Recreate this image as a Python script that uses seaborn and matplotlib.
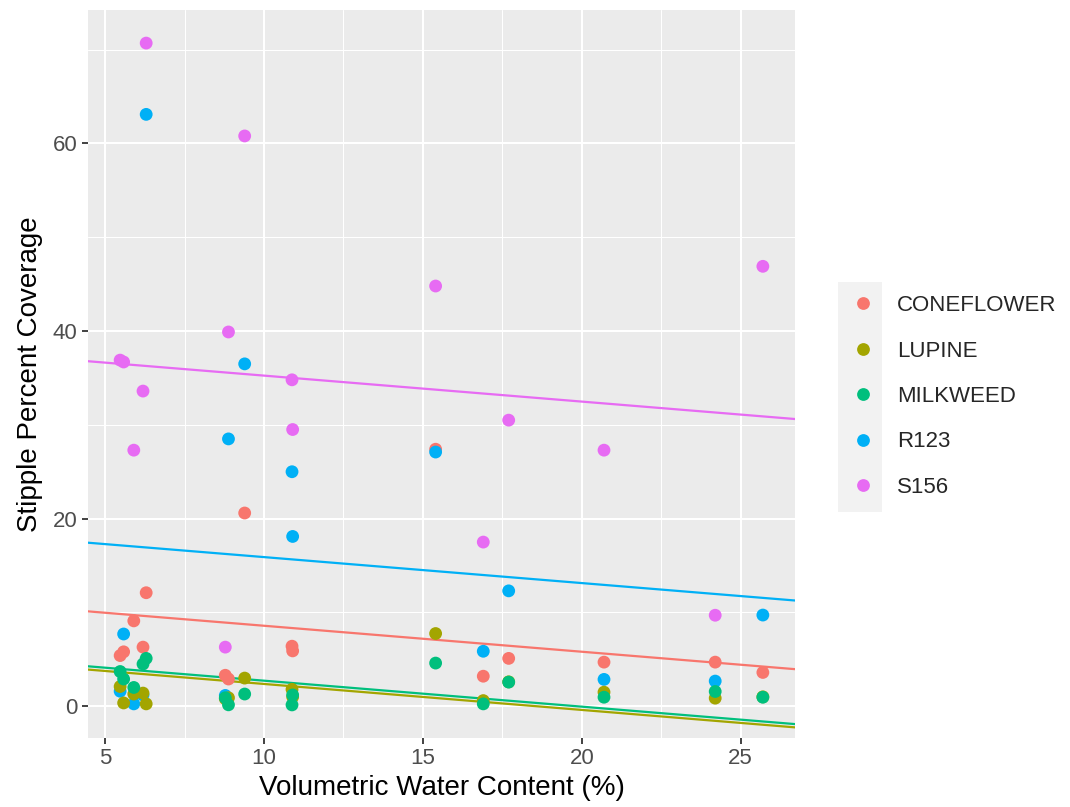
import numpy as np
import pandas as pd
import matplotlib
matplotlib.use("Agg")
import matplotlib.pyplot as plt
import seaborn as sns
from matplotlib.lines import Line2D
from matplotlib.patches import Rectangle

# Species / plot series and their colours
species = ["CONEFLOWER", "LUPINE", "MILKWEED", "R123", "S156"]
palette = ["#F8766D", "#A3A500", "#00BF7D", "#00B0F6", "#E76BF3"]

# Volumetric water content (%) of each sampling site
site_vwc = [5.47, 5.58, 5.90, 6.19, 6.29, 8.78, 8.88, 9.39, 10.88, 10.90,
            15.40, 16.90, 17.70, 20.70, 24.20, 25.70]

# Stipple percent coverage per species at each site
coneflower = [5.4, 5.8, 9.1, 6.3, 12.1, 3.3, 2.9, 20.6, 6.4, 5.9,
              27.4, 3.2, 5.1, 4.7, 4.7, 3.6]
lupine = [2.1, 0.35, 1.3, 1.4, 0.25, 0.8, 0.9, 3.0, 1.8, 1.0,
          7.75, 0.6, 2.6, 1.5, 0.86, 1.0]
milkweed = [3.7, 2.9, 2.0, 4.5, 5.1, 0.9, 0.15, 1.3, 0.14, 1.2,
            4.6, 0.25, 2.57, 0.96, 1.57, 0.96]
r123 = [1.6, 7.7, 0.25, 1.2, 63.1, 1.15, 28.5, 36.5, 25.0, 18.1,
        27.1, 5.86, 12.3, 2.86, 2.68, 9.72]
s156 = [36.9, 36.7, 27.3, 33.6, 70.7, 6.3, 39.9, 60.8, 34.8, 29.5,
        44.8, 17.5, 30.5, 27.3, 9.7, 46.9]

coverage = {"CONEFLOWER": coneflower, "LUPINE": lupine, "MILKWEED": milkweed,
            "R123": r123, "S156": s156}

# Long-format table, drawn in this order
draw_order = ["CONEFLOWER", "R123", "S156", "LUPINE", "MILKWEED"]
df = pd.concat(
    [pd.DataFrame({"vwc": site_vwc, "cover": coverage[s], "species": s}) for s in draw_order],
    ignore_index=True,
)

# Additive linear model: common slope, separate intercept per species
X = np.column_stack([(df["species"] == s).astype(float) for s in species] + [df["vwc"].values])
coef, *_ = np.linalg.lstsq(X, df["cover"].values, rcond=None)
intercepts, slope = coef[:-1], coef[-1]

# Axis limits with ggplot-style 5% expansion
xr = df["vwc"].max() - df["vwc"].min()
yr = df["cover"].max() - df["cover"].min()
xlim = (df["vwc"].min() - 0.05 * xr, df["vwc"].max() + 0.05 * xr)
ylim = (df["cover"].min() - 0.05 * yr, df["cover"].max() + 0.05 * yr)

xs = np.linspace(xlim[0], xlim[1], 50)
pred = pd.concat(
    [pd.DataFrame({"vwc": xs, "cover": b + slope * xs, "species": s})
     for s, b in zip(species, intercepts)],
    ignore_index=True,
)

sns.set_theme(style="darkgrid")
plt.rcParams["font.family"] = ["Liberation Sans", "DejaVu Sans"]

fig = plt.figure(figsize=(10.70, 8.07), dpi=100)
ax = fig.add_axes([88 / 1070, 1 - 738 / 807, (795 - 88) / 1070, (738 - 10) / 807])
ax.set_facecolor("#EBEBEB")

sns.lineplot(data=pred, x="vwc", y="cover", hue="species", hue_order=species,
             palette=palette, legend=False, linewidth=1.6, ax=ax, zorder=2)
sns.scatterplot(data=df, x="vwc", y="cover", hue="species", hue_order=species,
                palette=palette, s=85, linewidth=0, legend=False, ax=ax, zorder=3)

ax.set_xlim(*xlim)
ax.set_ylim(*ylim)
ax.set_xticks([5, 10, 15, 20, 25])
ax.set_xticks([7.5, 12.5, 17.5, 22.5], minor=True)
ax.set_yticks([0, 20, 40, 60])
ax.set_yticks([10, 30, 50, 70], minor=True)
ax.grid(which="major", color="white", linewidth=1.5)
ax.grid(which="minor", color="white", linewidth=0.75)
for sp in ax.spines.values():
    sp.set_visible(False)
ax.tick_params(which="major", length=4.5, width=1.3, color="#333333",
               labelsize=16, labelcolor="#4D4D4D", pad=3, bottom=True, left=True)
ax.tick_params(which="minor", length=0)

ax.set_xlabel("Volumetric Water Content (%)", fontsize=20, color="black", labelpad=4)
ax.set_ylabel("Stipple Percent Coverage", fontsize=20, color="black", labelpad=7)

# Legend with grey key background
key_x0, key_w = 838 / 1070, 44 / 1070
top_px, step_px = 282, 46
fig.patches.append(Rectangle((key_x0, 1 - (top_px + 5 * step_px) / 807), key_w,
                             5 * step_px / 807, transform=fig.transFigure,
                             facecolor="#F2F2F2", edgecolor="none", zorder=0))
handles = [Line2D([], [], linestyle="none", marker="o", markersize=9.2,
                  markerfacecolor=c, markeredgewidth=0) for c in palette]
fig.legend(handles, species, loc="upper left",
           bbox_to_anchor=(key_x0 - 0.004, 1 - (top_px + 2) / 807),
           frameon=False, fontsize=16, handlelength=1.6, handletextpad=0.75,
           labelspacing=1.1, borderpad=0)

fig.savefig("out.png", dpi=100, facecolor="white")
